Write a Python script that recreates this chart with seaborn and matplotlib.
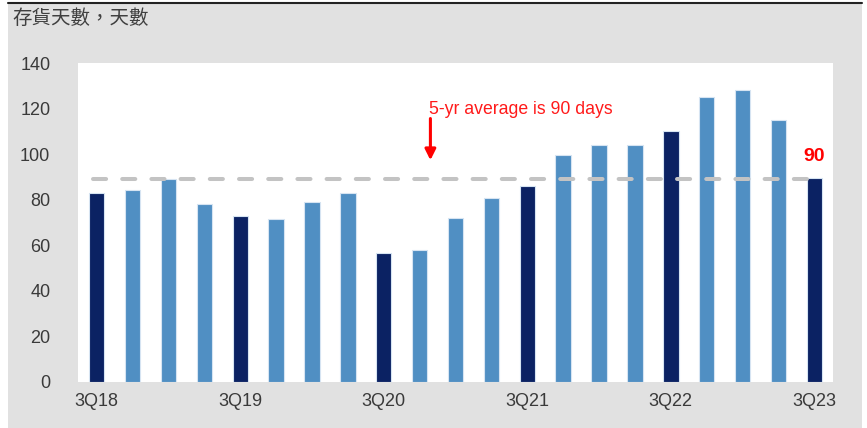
import matplotlib
matplotlib.use("Agg")
import matplotlib.pyplot as plt
import matplotlib.patches as mpatches
import matplotlib.lines as mlines
import seaborn as sns
import pandas as pd

# data
quarters = ["3Q18", "4Q18", "1Q19", "2Q19", "3Q19", "4Q19", "1Q20", "2Q20",
            "3Q20", "4Q20", "1Q21", "2Q21", "3Q21", "4Q21", "1Q22", "2Q22",
            "3Q22", "4Q22", "1Q23", "2Q23", "3Q23"]
inventory_days = [83, 84, 89, 78, 73, 71.5, 79, 83,
                  56.5, 58, 72, 80.5, 86, 99.5, 104, 104,
                  110, 125, 128, 115, 89.5]
five_yr_avg = 89
shown_ticks = ["3Q18", "3Q19", "3Q20", "3Q21", "3Q22", "3Q23"]

df = pd.DataFrame({"quarter": quarters, "days": inventory_days})
df["is_3q"] = df["quarter"].str.startswith("3Q").map({True: "3Q", False: "other"})

sns.set_style("white")
plt.rcParams['font.family'] = ['Liberation Sans', 'DejaVu Sans']

fig = plt.figure(figsize=(8.67, 4.28), dpi=100, facecolor="white")

# gray panel behind everything, with thin dark rule at the top
fig.patches.append(mpatches.Rectangle((8 / 867, 0.0), 854 / 867, 1 - 4 / 428,
                                      transform=fig.transFigure, facecolor="#e1e1e1",
                                      edgecolor="none", zorder=-10))
fig.lines.append(mlines.Line2D([8 / 867, 862 / 867], [1 - 3 / 428, 1 - 3 / 428],
                               transform=fig.transFigure, color="#222222", linewidth=1.5))

ax = fig.add_axes([0.0900, 0.1082, 0.8708, 0.7446])
ax.set_facecolor("white")

sns.barplot(data=df, x="quarter", y="days", hue="is_3q", order=quarters,
            palette={"3Q": "#0b2263", "other": "#508fc3"}, dodge=False, saturation=1,
            width=0.43, edgecolor="#d6e4f2", linewidth=0.8, legend=False, ax=ax)

# 5-yr average dashed line
ax.plot([-0.1, 20.1], [five_yr_avg, five_yr_avg], color="#c3c3c3", linewidth=2.9,
        linestyle=(0, (3.25, 4.0)), dash_capstyle="round", zorder=5)

ax.annotate("", xy=(9.3, 97.3), xytext=(9.3, 115.6),
            arrowprops=dict(arrowstyle="-|>", color="#ff0000", lw=2.2,
                            mutation_scale=16, shrinkA=0, shrinkB=0))
ax.text(9.25, 117.5, "5-yr average is 90 days", color="#ff1a1a", fontsize=12.7,
        ha="left", va="baseline")
ax.text(20.0, 96.8, "90", color="#ff0000", fontsize=14, fontweight="bold",
        ha="center", va="baseline")

ax.set_xlim(-0.52, 20.52)
ax.set_ylim(0, 140)
ax.set_yticks(range(0, 141, 20))
ax.set_xticks([quarters.index(q) for q in shown_ticks])
ax.set_xticklabels(shown_ticks)
ax.tick_params(axis="both", length=0, labelsize=13, labelcolor="#3a3a3a")
ax.tick_params(axis="y", pad=20)
ax.tick_params(axis="x", pad=8)
ax.set_xlabel("")
ax.set_ylabel("")
for s in ax.spines.values():
    s.set_visible(False)

fig.text(12 / 867, 1 - 19 / 428, "存貨天數，天數", fontsize=14, color="#404040",
         family=['Noto Sans CJK TC', 'DejaVu Sans'], ha="left", va="center")

fig.savefig("out.png", dpi=100, facecolor=fig.get_facecolor())
